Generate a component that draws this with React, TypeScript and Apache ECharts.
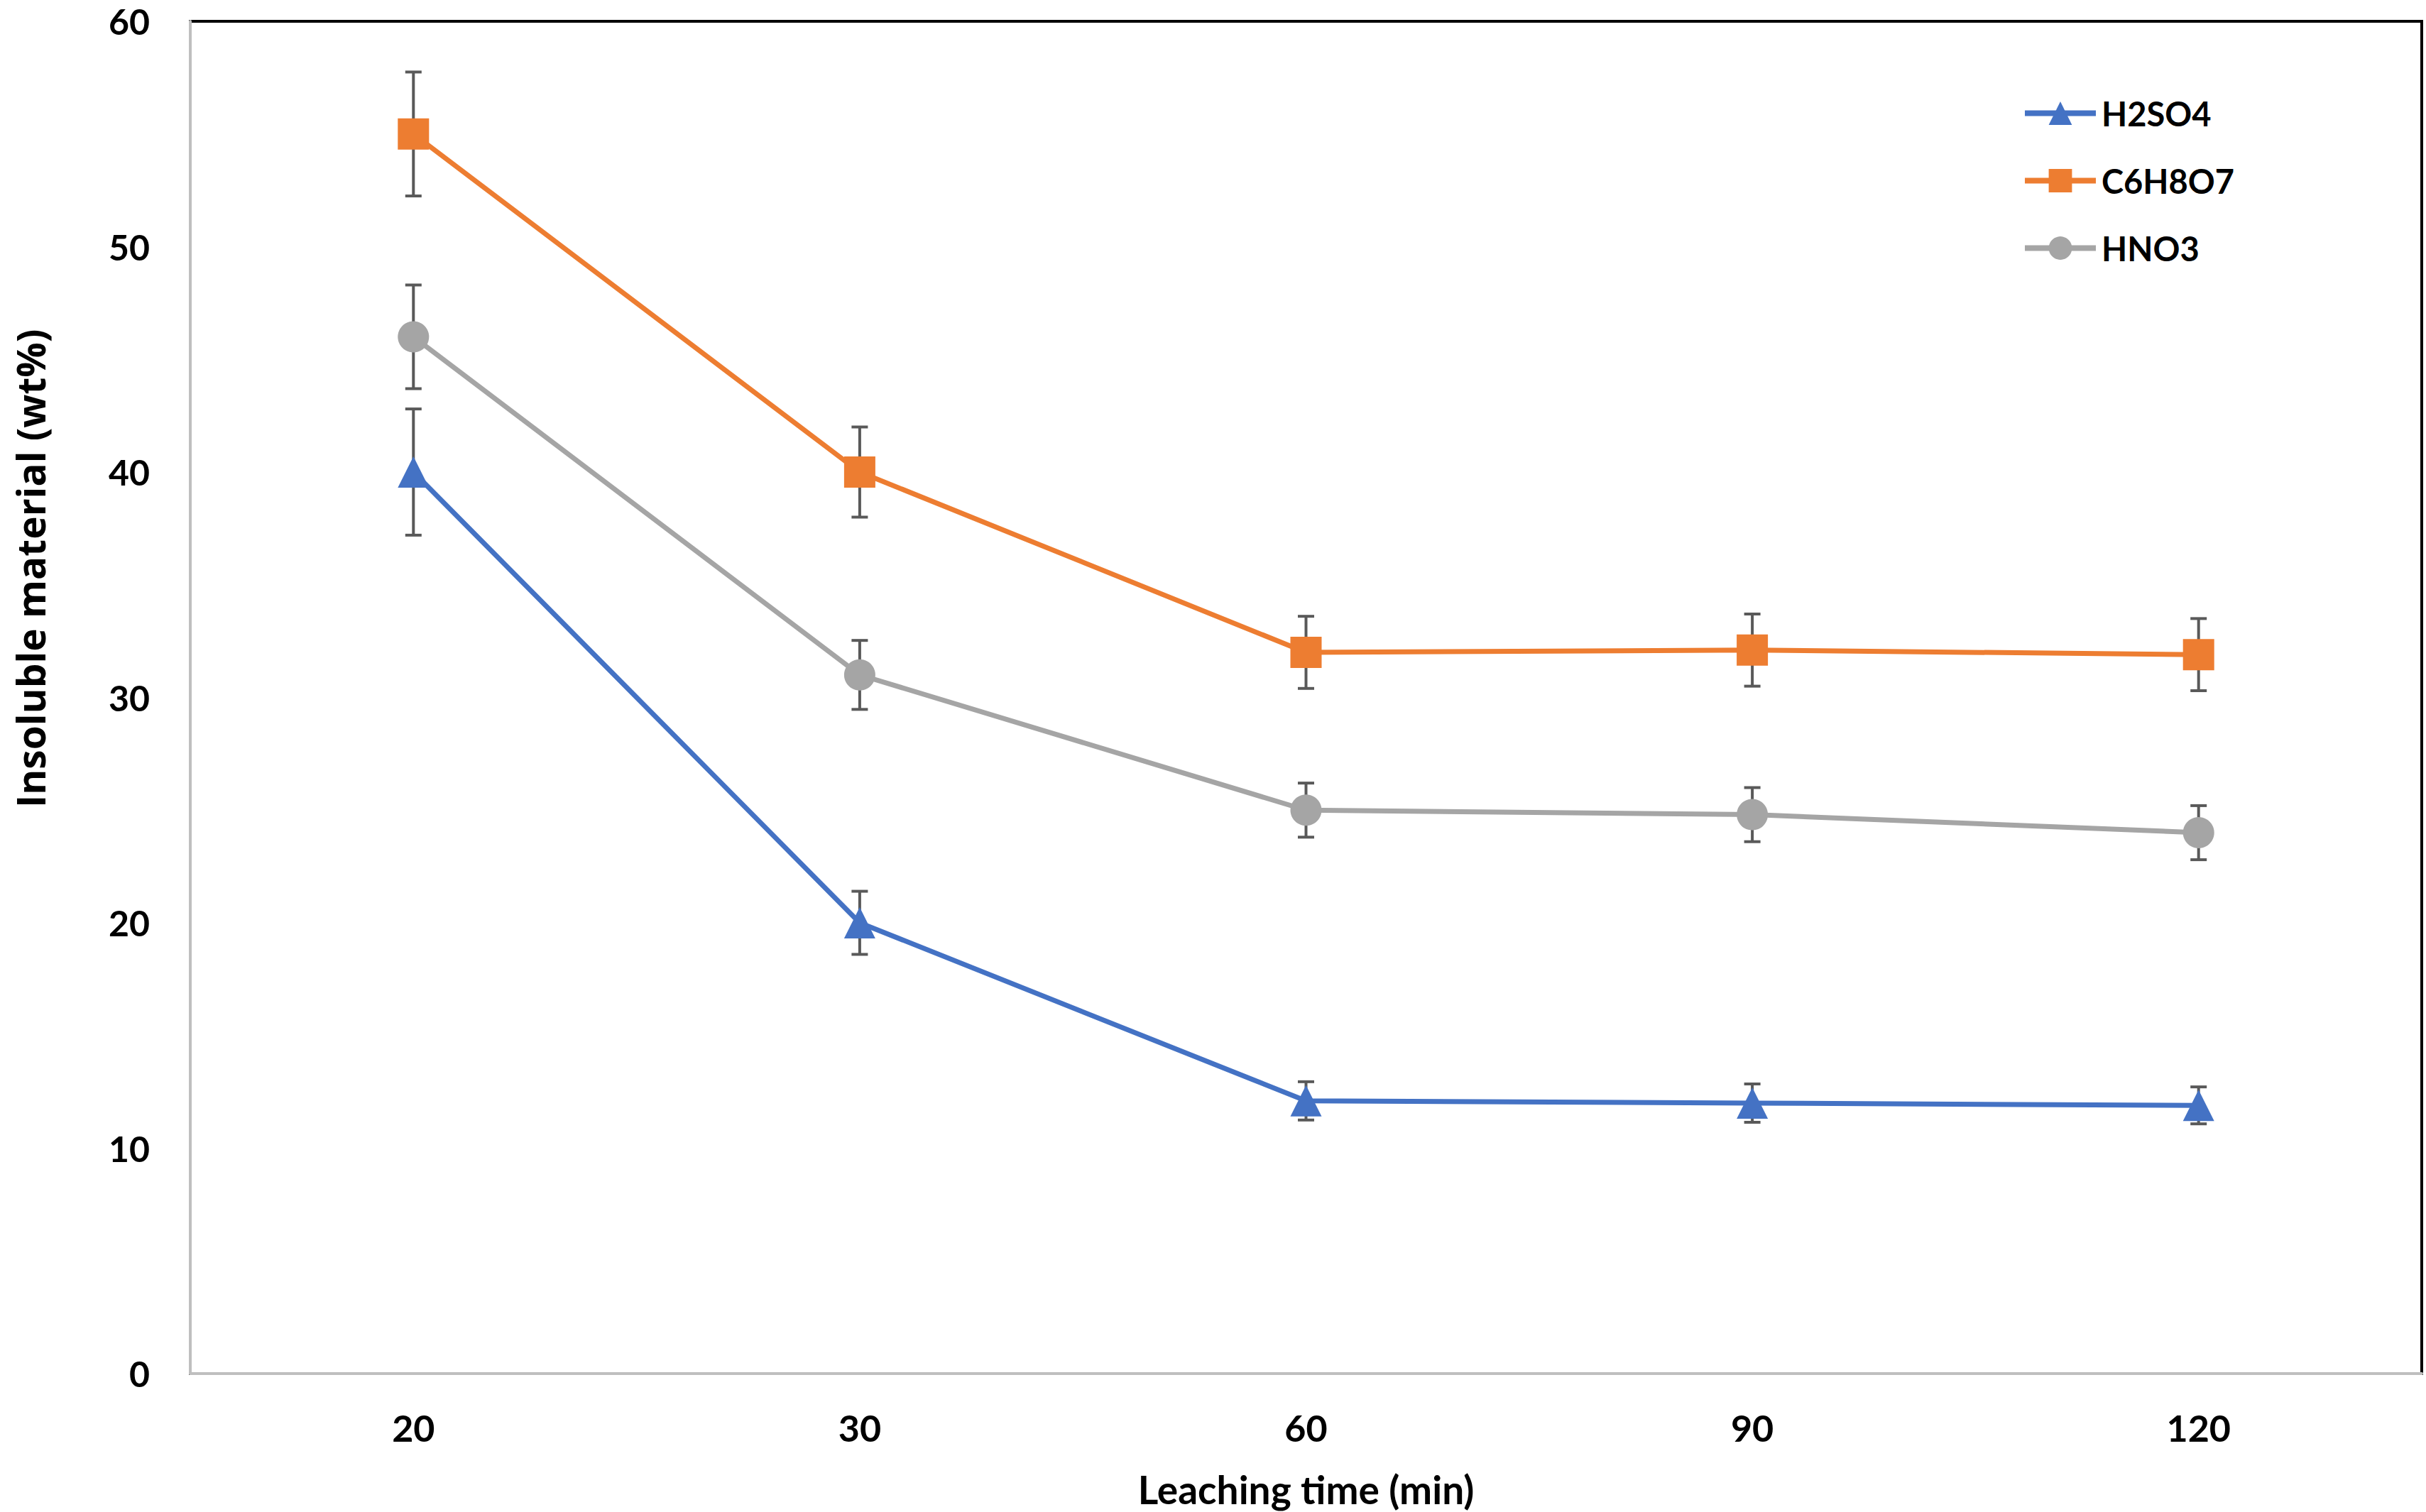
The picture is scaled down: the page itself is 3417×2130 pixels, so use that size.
import React, { useEffect, useRef } from "react";
import * as echarts from "echarts";

const categories = ["20", "30", "60", "90", "120"];
const yTicks = { min: 0, max: 60, interval: 10 };
const xTitle = "Leaching time (min)";
const yTitle = "Insoluble material (wt%)";

const h2so4 = [40, 20, 12.1, 12, 11.9];
const h2so4Err = [2.8, 1.4, 0.85, 0.85, 0.82];
const c6h8o7 = [55, 40, 32, 32.1, 31.9];
const c6h8o7Err = [2.75, 2, 1.6, 1.6, 1.6];
const hno3 = [46, 31, 25, 24.8, 24];
const hno3Err = [2.3, 1.53, 1.2, 1.2, 1.2];

const seriesDefs = [
  { name: "H2SO4", values: h2so4, err: h2so4Err, color: "#4472C4", symbol: "triangle" },
  { name: "C6H8O7", values: c6h8o7, err: c6h8o7Err, color: "#ED7D31", symbol: "rect" },
  { name: "HNO3", values: hno3, err: hno3Err, color: "#A5A5A5", symbol: "circle" },
];

const FONT = "Lato";

export default function App() {
  const ref = useRef<HTMLDivElement>(null);
  useEffect(() => {
    document.body.style.margin = "0";
    const chart = echarts.init(ref.current!, null, { renderer: "svg" });
    const lineSeries = seriesDefs.map((s) => ({
      name: s.name,
      type: "line",
      data: s.values,
      symbol: s.symbol,
      symbolSize: 44,
      z: 3,
      lineStyle: { color: s.color, width: 7 },
      itemStyle: { color: s.color },
    }));
    const errSeries = seriesDefs.map((s) => ({
      name: s.name + " error",
      type: "custom",
      z: 2,
      data: s.values.map((v, i) => [i, v - s.err[i], v + s.err[i]]),
      renderItem: (params: any, api: any) => {
        const x = api.value(0);
        const pLo = api.coord([x, api.value(1)]);
        const pHi = api.coord([x, api.value(2)]);
        const half = 11.5;
        const style = { stroke: "#595959", lineWidth: 4 };
        return {
          type: "group",
          children: [
            { type: "line", shape: { x1: pLo[0], y1: pLo[1], x2: pHi[0], y2: pHi[1] }, style },
            { type: "line", shape: { x1: pHi[0] - half, y1: pHi[1], x2: pHi[0] + half, y2: pHi[1] }, style },
            { type: "line", shape: { x1: pLo[0] - half, y1: pLo[1], x2: pLo[0] + half, y2: pLo[1] }, style },
          ],
        };
      },
    }));
    chart.setOption({
      animation: false,
      backgroundColor: "#ffffff",
      grid: {
        left: 268,
        top: 30,
        right: 6,
        bottom: 193,
        show: true,
        borderColor: "#000000",
        borderWidth: 4,
        containLabel: false,
      },
      legend: {
        data: seriesDefs.map((s) => s.name),
        orient: "vertical",
        left: 2843,
        top: 131,
        itemWidth: 100,
        itemHeight: 41,
        itemGap: 48,
        lineStyle: { width: 8 },
        textStyle: {
          fontFamily: FONT,
          fontWeight: "bold",
          fontSize: 47,
          lineHeight: 41,
          color: "#000",
          padding: [0, 0, 0, 3],
        },
      },
      graphic: [
        {
          type: "text",
          x: 42,
          y: 1138,
          rotation: Math.PI / 2,
          style: {
            text: yTitle,
            align: "left",
            verticalAlign: "middle",
            fontFamily: "Open Sans",
            fontWeight: "bold",
            fontSize: 55,
            lineHeight: 55,
            fill: "#000",
          },
        },
      ],
      xAxis: {
        type: "category",
        data: categories,
        boundaryGap: true,
        axisLine: { lineStyle: { color: "#BFBFBF", width: 4 } },
        axisTick: { show: false },
        splitLine: { show: false },
        axisLabel: {
          fontFamily: FONT,
          fontWeight: "bold",
          fontSize: 52,
          color: "#000",
          margin: 50,
        },
        name: xTitle,
        nameLocation: "middle",
        nameGap: 135,
        nameTextStyle: { fontFamily: FONT, fontWeight: "bold", fontSize: 55, color: "#000" },
      },
      yAxis: {
        type: "value",
        min: yTicks.min,
        max: yTicks.max,
        interval: yTicks.interval,
        axisLine: { show: true, lineStyle: { color: "#BFBFBF", width: 4 } },
        axisTick: { show: false },
        splitLine: { show: false },
        axisLabel: {
          fontFamily: FONT,
          fontWeight: "bold",
          fontSize: 50,
          lineHeight: 40,
          color: "#000",
          margin: 57,
        },
      },
      series: [...errSeries, ...lineSeries],
    });
    return () => chart.dispose();
  }, []);
  return <div ref={ref} style={{ width: "3417px", height: "2130px" }} />;
}
